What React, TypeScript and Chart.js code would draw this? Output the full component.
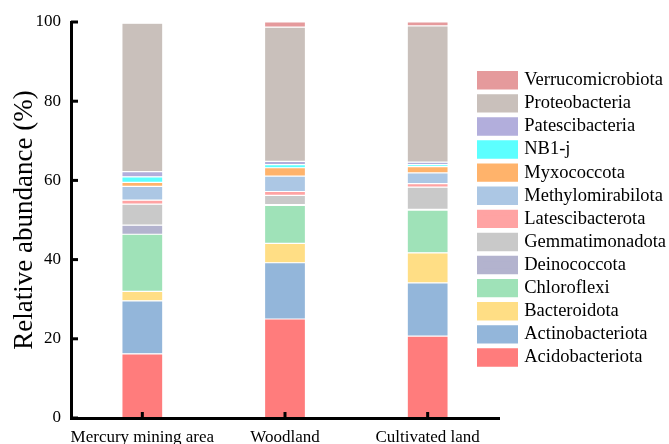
import { useEffect, useRef } from 'react';
import { Chart, registerables } from 'chart.js';

Chart.register(...registerables);

// ---- data ----
const categories = ['Mercury mining area', 'Woodland', 'Cultivated land'];
const phyla = [
  'Acidobacteriota',
  'Actinobacteriota',
  'Bacteroidota',
  'Chloroflexi',
  'Deinococcota',
  'Gemmatimonadota',
  'Latescibacterota',
  'Methylomirabilota',
  'Myxococcota',
  'NB1-j',
  'Patescibacteria',
  'Proteobacteria',
  'Verrucomicrobiota',
];
const acidobacteriota = [16.2, 25.0, 20.7];
const actinobacteriota = [13.4, 14.2, 13.4];
const bacteroidota = [2.4, 4.9, 7.6];
const chloroflexi = [14.4, 9.6, 10.8];
const deinococcota = [2.3, 0.2, 0.2];
const gemmatimonadota = [5.3, 2.3, 5.6];
const latescibacterota = [1.0, 1.0, 0.9];
const methylomirabilota = [3.5, 3.9, 2.7];
const myxococcota = [1.0, 2.1, 1.6];
const nb1j = [1.4, 0.8, 0.5];
const patescibacteria = [1.3, 0.8, 0.6];
const proteobacteria = [37.5, 33.9, 34.4];
const verrucomicrobiota = [0.3, 1.3, 1.0];
const yTickValues = [0, 20, 40, 60, 80, 100];

const seriesValues = [
  acidobacteriota,
  actinobacteriota,
  bacteroidota,
  chloroflexi,
  deinococcota,
  gemmatimonadota,
  latescibacterota,
  methylomirabilota,
  myxococcota,
  nb1j,
  patescibacteria,
  proteobacteria,
  verrucomicrobiota,
];
const seriesColors = [
  '#FF7C7C',
  '#93B6DA',
  '#FFDE85',
  '#9FE2B8',
  '#B3B3CE',
  '#C9C9C9',
  '#FFA3A3',
  '#ACC7E4',
  '#FFB36B',
  '#5CFFFF',
  '#B2AEDC',
  '#C9C0BB',
  '#E59A9C',
];

const FONT = "'Liberation Serif', 'Times New Roman', serif";

const inwardTicks = {
  id: 'inwardTicks',
  afterDraw(chart: any) {
    const { ctx, chartArea, scales } = chart;
    const x = scales.x;
    const y = scales.y;
    ctx.save();
    ctx.strokeStyle = '#000';
    ctx.lineWidth = 3;
    ctx.lineCap = 'butt';
    y.ticks.forEach((_t: any, i: number) => {
      const py = y.getPixelForTick(i);
      ctx.beginPath();
      ctx.moveTo(chartArea.left, py);
      ctx.lineTo(chartArea.left + 7, py);
      ctx.stroke();
    });
    x.ticks.forEach((_t: any, i: number) => {
      const px = x.getPixelForTick(i);
      ctx.beginPath();
      ctx.moveTo(px, chartArea.bottom);
      ctx.lineTo(px, chartArea.bottom - 6);
      ctx.stroke();
    });
    ctx.restore();
  },
};

const legendPlacement = {
  id: 'legendPlacement',
  afterLayout(chart: any) {
    const lg = chart.legend;
    if (!lg) return;
    const targetLeft = 475.4;
    const targetTop = 66.4;
    const dy = targetTop - lg.top;
    lg.left = targetLeft;
    lg.right = chart.width;
    lg.top += dy;
    lg.bottom += dy;
  },
};

export default function App() {
  const canvasRef = useRef<HTMLCanvasElement | null>(null);

  useEffect(() => {
    if (!canvasRef.current) return;
    const chart = new Chart(canvasRef.current, {
      type: 'bar',
      data: {
        labels: categories,
        datasets: phyla.map((name, i) => ({
          label: name,
          data: seriesValues[i],
          backgroundColor: seriesColors[i],
          borderColor: 'rgba(255,255,255,0.85)',
          borderWidth: 0.6,
          borderSkipped: false,
          barPercentage: 0.287,
          categoryPercentage: 1,
        })),
      },
      options: {
        responsive: false,
        animation: false,
        layout: {
          padding: { top: 22, left: 0, right: 0, bottom: 0 },
          autoPadding: false,
        },
        plugins: {
          tooltip: { enabled: false },
          legend: {
            position: 'right',
            align: 'start',
            reverse: true,
            maxWidth: 170,
            labels: {
              boxWidth: 35,
              boxHeight: 12.4,
              padding: 4.6,
              color: '#000',
              font: { family: FONT, size: 18.5 },
              generateLabels: (c: any) =>
                Chart.defaults.plugins.legend.labels
                  .generateLabels(c)
                  .map((l: any) => ({ ...l, strokeStyle: l.fillStyle, lineWidth: 6 })),
            },
          },
        },
        scales: {
          x: {
            stacked: true,
            grid: { display: false, drawTicks: false },
            border: { display: true, color: '#000', width: 3, z: 1 },
            ticks: {
              color: '#000',
              padding: 9,
              autoSkip: false,
              font: { family: FONT, size: 17 },
              maxRotation: 0,
              minRotation: 0,
            },
            afterFit: (s: any) => {
              s.height = 26;
            },
          },
          y: {
            stacked: true,
            min: 0,
            max: 100,
            grid: { display: false, drawTicks: false },
            border: { display: true, color: '#000', width: 3, z: 1 },
            afterBuildTicks: (s: any) => {
              s.ticks = yTickValues.map((v) => ({ value: v }));
            },
            ticks: { color: '#000', padding: 10, font: { family: FONT, size: 17 } },
            title: {
              display: true,
              text: 'Relative abundance (%)',
              color: '#000',
              font: { family: FONT, size: 27 },
              padding: { top: 9, bottom: 0 },
            },
            afterFit: (s: any) => {
              s.width = 71;
            },
          },
        },
      } as any,
      plugins: [inwardTicks, legendPlacement],
    });
    return () => chart.destroy();
  }, []);

  return (
    <div style={{ position: 'fixed', left: 0, top: 0, width: 669, height: 444, background: '#fff' }}>
      <canvas ref={canvasRef} width={669} height={444} style={{ display: 'block' }} />
    </div>
  );
}
